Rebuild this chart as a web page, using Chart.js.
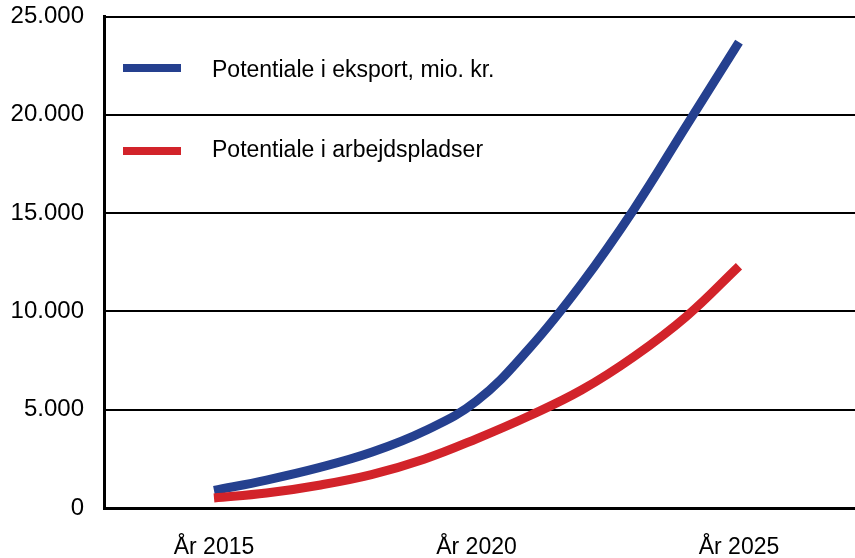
<!DOCTYPE html>
<html lang="da">
<head>
<meta charset="utf-8">
<title>Potentiale</title>
<script src="https://cdn.jsdelivr.net/npm/chart.js@4/dist/chart.umd.min.js"></script>
<style>
    html, body { margin: 0; padding: 0; background: #fff; }
    #wrap { width: 855px; height: 558px; }
</style>
</head>
<body>
<div id="wrap"><canvas id="grafPotentiale" width="855" height="558"></canvas></div>
<script>
// --- Data ---
const aar = [2015, 2016, 2017, 2018, 2019, 2020, 2021, 2022, 2023, 2024, 2025];
const eksport = [890, 1420, 2050, 2830, 3900, 5440, 8100, 11400, 15200, 19450, 23700];
const arbejdspladser = [510, 760, 1160, 1700, 2480, 3520, 4680, 6000, 7700, 9750, 12300];
const yTicks = [0, 5000, 10000, 15000, 20000, 25000];
const xTicks = [2015, 2020, 2025];
const xTickLabels = ['År 2015', 'År 2020', 'År 2025'];
const serieNavne = ['Potentiale i eksport, mio. kr.', 'Potentiale i arbejdspladser'];

const FONT = '"Liberation Sans", Arial, sans-serif';
const BLAA = '#25408f';
const ROED = '#d2232a';

// tusindtalsseparator med punktum
function formatTal(v) {
    return String(v).replace(/\B(?=(\d{3})+(?!\d))/g, '.');
}

// Egen forklaring inde i plotområdet
const forklaringPlugin = {
    id: 'forklaring',
    afterDraw(chart) {
        const ctx = chart.ctx;
        const linjeY = [68, 151];
        const tekstY = [77, 157];
        ctx.save();
        chart.data.datasets.forEach((ds, i) => {
            ctx.strokeStyle = ds.borderColor;
            ctx.lineWidth = 8;
            ctx.lineCap = 'butt';
            ctx.beginPath();
            ctx.moveTo(123, linjeY[i]);
            ctx.lineTo(181, linjeY[i]);
            ctx.stroke();

            ctx.fillStyle = '#000';
            ctx.font = '23px ' + FONT;
            ctx.textAlign = 'left';
            ctx.textBaseline = 'alphabetic';
            ctx.fillText(ds.label, 212, tekstY[i]);
        });
        ctx.restore();
    }
};

new Chart(document.getElementById('grafPotentiale'), {
    type: 'line',
    data: {
        datasets: [
            {
                label: serieNavne[0],
                data: aar.map((a, i) => ({ x: a, y: eksport[i] })),
                borderColor: BLAA,
                borderWidth: 9,
                borderCapStyle: 'butt',
                pointRadius: 0,
                tension: 0.4,
                order: 2
            },
            {
                label: serieNavne[1],
                data: aar.map((a, i) => ({ x: a, y: arbejdspladser[i] })),
                borderColor: ROED,
                borderWidth: 9,
                borderCapStyle: 'butt',
                pointRadius: 0,
                tension: 0.4,
                order: 1
            }
        ]
    },
    options: {
        responsive: false,
        animation: false,
        layout: { padding: { top: 16.5, right: 0, left: 0, bottom: 0 } },
        plugins: { legend: { display: false }, tooltip: { enabled: false } },
        scales: {
            x: {
                type: 'linear',
                min: 2012.905,
                max: 2027.21,
                afterBuildTicks: (axis) => { axis.ticks = xTicks.map(v => ({ value: v })); },
                afterFit: (axis) => { axis.height = 50; },
                grid: { display: false, drawTicks: false },
                border: { display: true, color: '#000', width: 3 },
                ticks: {
                    padding: 26,
                    color: '#000',
                    font: { family: FONT, size: 23 },
                    maxRotation: 0,
                    callback: (v) => xTickLabels[xTicks.indexOf(v)]
                }
            },
            y: {
                min: 0,
                max: 25000,
                afterBuildTicks: (axis) => { axis.ticks = yTicks.map(v => ({ value: v })); },
                afterFit: (axis) => {
                    axis.width = 104;
                    axis.paddingTop = 0;
                    axis.paddingBottom = 0;
                },
                grid: { color: '#000', lineWidth: 2, drawTicks: false },
                border: { display: true, color: '#000', width: 3 },
                ticks: {
                    padding: 20,
                    color: '#000',
                    font: { family: FONT, size: 24 },
                    callback: (v) => formatTal(v)
                }
            }
        }
    },
    plugins: [forklaringPlugin]
});
</script>
</body>
</html>
